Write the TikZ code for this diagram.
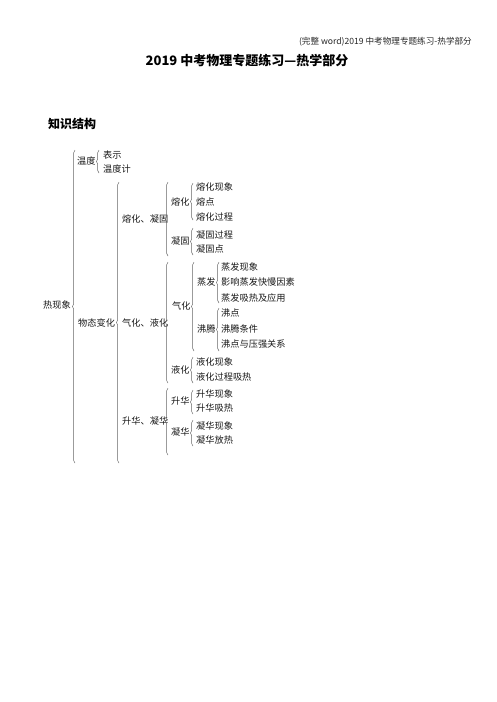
\documentclass[tikz,border=0pt]{standalone}
\usepackage{fontspec}
\setmainfont{Noto Sans CJK SC}
\usetikzlibrary{decorations.pathreplacing}
\begin{document}
\begin{tikzpicture}[x=1pt,y=-1pt,
  lbl/.style={anchor=west, inner sep=0pt, font=\fontsize{9.2}{10}\selectfont, text=black!90},
  br/.style={decorate, decoration={brace, amplitude=2.6pt}, draw=black!60, line width=0.45pt}]
\useasboundingbox (0,0) rectangle (496,702);
% header and titles
\node[anchor=east, inner sep=0pt, font=\fontsize{8.6}{9}\selectfont, text=black!85] (hdr) at (472,42) {(完整 word)2019 中考物理专题练习-热学部分};
\node[inner sep=0pt, font=\fontsize{13}{14}\selectfont\bfseries] (title) at (247,61) {2019 中考物理专题练习—热学部分};
\node[anchor=west, inner sep=0pt, font=\fontsize{12}{13}\selectfont\bfseries] (kz) at (48,124) {知识结构};

% level 0
\node[lbl] (rxx) at (43,305) {热现象};
\coordinate (b1t) at (75,150); \coordinate (b1b) at (75,463);
\draw[br] (b1b) -- (b1t);

% 温度
\node[lbl] (wd) at (77,161) {温度};
\coordinate (b2t) at (99,150); \coordinate (b2b) at (99,173);
\draw[br] (b2b) -- (b2t);
\node[lbl] (bs) at (103,155) {表示};
\node[lbl] (wdj) at (103,169) {温度计};

% 物态变化
\node[lbl] (wtbh) at (78,323) {物态变化};
\coordinate (b3t) at (119,182); \coordinate (b3b) at (119,463);
\draw[br] (b3b) -- (b3t);

% 熔化、凝固
\node[lbl] (rhng) at (122,219) {熔化、凝固};
\coordinate (b4t) at (168,182); \coordinate (b4b) at (168,256);
\draw[br] (b4b) -- (b4t);

\node[lbl] (rh) at (171,202) {熔化};
\coordinate (b5t) at (193,183); \coordinate (b5b) at (193,220);
\draw[br] (b5b) -- (b5t);
\node[lbl] (rhxx) at (196,187) {熔化现象};
\node[lbl] (rd) at (196,202) {熔点};
\node[lbl] (rhgc) at (196,217) {熔化过程};

\node[lbl] (ng) at (171,241) {凝固};
\coordinate (b6t) at (193,228); \coordinate (b6b) at (193,255);
\draw[br] (b6b) -- (b6t);
\node[lbl] (nggc) at (196,235) {凝固过程};
\node[lbl] (ngd) at (196,249) {凝固点};

% 气化、液化
\node[lbl] (qhyh) at (122,323) {气化、液化};
\coordinate (b7t) at (168,262); \coordinate (b7b) at (168,383);
\draw[br] (b7b) -- (b7t);

\node[lbl] (qh) at (172,306) {气化};
\coordinate (b8t) at (194,262); \coordinate (b8b) at (194,351);
\draw[br] (b8b) -- (b8t);

\node[lbl] (zf) at (197,282) {蒸发};
\coordinate (b9t) at (219,262); \coordinate (b9b) at (219,303);
\draw[br] (b9b) -- (b9t);
\node[lbl] (zfxx) at (221,267) {蒸发现象};
\node[lbl] (yxzf) at (221,282) {影响蒸发快慢因素};
\node[lbl] (zfxr) at (221,298) {蒸发吸热及应用};

\node[lbl] (ft) at (197,329) {沸腾};
\coordinate (b10t) at (219,308); \coordinate (b10b) at (219,351);
\draw[br] (b10b) -- (b10t);
\node[lbl] (fd) at (221,313) {沸点};
\node[lbl] (fttj) at (221,329) {沸腾条件};
\node[lbl] (fdyq) at (221,344) {沸点与压强关系};

\node[lbl] (yh) at (171,370) {液化};
\coordinate (b11t) at (193,357); \coordinate (b11b) at (193,383);
\draw[br] (b11b) -- (b11t);
\node[lbl] (yhxx) at (196,362) {液化现象};
\node[lbl] (yhgc) at (196,377) {液化过程吸热};

% 升华、凝华
\node[lbl] (shnh) at (122,421) {升华、凝华};
\coordinate (b12t) at (168,388); \coordinate (b12b) at (168,455);
\draw[br] (b12b) -- (b12t);

\node[lbl] (sh) at (171,401) {升华};
\coordinate (b13t) at (193,390); \coordinate (b13b) at (193,414);
\draw[br] (b13b) -- (b13t);
\node[lbl] (shxx) at (196,394) {升华现象};
\node[lbl] (shxr) at (196,408) {升华吸热};

\node[lbl] (nh) at (171,432) {凝华};
\coordinate (b14t) at (193,420); \coordinate (b14b) at (193,446);
\draw[br] (b14b) -- (b14t);
\node[lbl] (nhxx) at (196,426) {凝华现象};
\node[lbl] (nhfr) at (196,440) {凝华放热};
\end{tikzpicture}
\end{document}
